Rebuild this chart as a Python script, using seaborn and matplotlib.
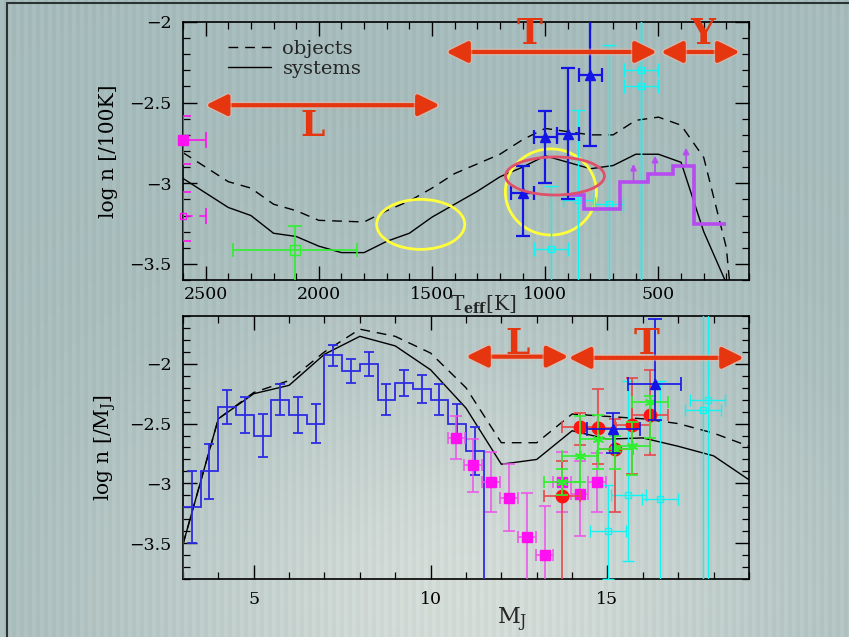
import numpy as np
import pandas as pd
import seaborn as sns
import matplotlib.pyplot as plt
from matplotlib.patches import Ellipse, FancyArrowPatch
from matplotlib.lines import Line2D
from matplotlib.ticker import MultipleLocator, FuncFormatter
import matplotlib.patheffects as pe

# ---- upper panel: model curves vs Teff ----
teff_model = [2600, 2400, 2300, 2200, 2100, 2000, 1900, 1800, 1700, 1600, 1500, 1400,
              1300, 1200, 1100, 1000, 900, 800, 700, 600, 500, 400, 300, 200, 180]
objects_teff = [-2.81, -2.99, -3.03, -3.13, -3.17, -3.23, -3.235, -3.24, -3.17, -3.11, -3.03, -2.94,
                -2.88, -2.82, -2.73, -2.66, -2.68, -2.70, -2.70, -2.61, -2.59, -2.64, -2.84, -3.40, -3.70]
systems_teff = [-2.97, -3.15, -3.20, -3.31, -3.33, -3.39, -3.43, -3.43, -3.36, -3.31, -3.21, -3.13,
                -3.05, -2.96, -2.90, -2.83, -2.87, -2.91, -2.89, -2.82, -2.82, -2.87, -3.30, -3.62, -3.75]

# magenta points at the hot end
mag_teff = [2600]
mag_y = [-2.73]
mag_open_teff = [2600]
mag_open_y = [-3.205]
# green open square
grn_teff = [2105]
grn_y = [-3.415]
grn_xerr = [275]
grn_ylo = [0.30]
grn_yhi = [0.15]
# blue triangles
blue_teff = [1100, 1000, 900, 800]
blue_y = [-3.06, -2.715, -2.695, -2.33]
blue_xerr = [50, 50, 50, 50]
blue_ylo = [0.27, 0.285, 0.40, 0.44]
blue_yhi = [0.165, 0.165, 0.41, 0.50]
# cyan open squares
cyan_teff = [975, 855, 720, 575, 575]
cyan_y = [-3.41, -3.105, -3.13, -2.30, -2.40]
cyan_xerr = [75, 68, 62, 75, 75]
cyan_ylo = [1.0, 1.0, 1.0, 1.5, 1.5]
cyan_yhi = [0.39, 0.56, 0.99, 0.5, 0.6]
# purple lower-limit histogram
purple_edges = [900, 830, 670, 545, 435, 345, 200]
purple_vals = [-3.07, -3.16, -2.99, -2.94, -2.89, -3.25]
arrow_teff = [610, 515, 378]
arrow_base = [-2.99, -2.94, -2.89]

# ---- lower panel: model curves vs M_J ----
mj_model = [3, 4, 5, 6, 7, 8, 9, 10, 11, 12, 13, 14, 15, 16, 17, 18, 19]
objects_mj = [-3.51, -2.46, -2.24, -2.14, -1.90, -1.71, -1.77, -1.91, -2.20, -2.66, -2.66, -2.42,
              -2.44, -2.46, -2.50, -2.58, -2.69]
systems_mj = [-3.51, -2.46, -2.25, -2.18, -1.92, -1.77, -1.85, -2.05, -2.37, -2.84, -2.80, -2.56,
              -2.63, -2.62, -2.69, -2.77, -2.97]

# blue histogram
hist_edges = [3.0, 3.5, 4.0, 4.5, 5.0, 5.5, 6.0, 6.5, 7.0, 7.5, 8.0, 8.5, 9.0, 9.5, 10.0, 10.5, 11.0, 11.5]
hist_vals = [-3.20, -2.90, -2.36, -2.43, -2.60, -2.30, -2.43, -2.50, -1.93, -2.06, -2.00, -2.30,
             -2.16, -2.21, -2.30, -2.50, -2.73]
hist_err = [0.30, 0.23, 0.14, 0.15, 0.18, 0.13, 0.15, 0.16, 0.09, 0.10, 0.10, 0.13,
            0.11, 0.12, 0.13, 0.16, 0.20]

# magenta squares
msq_mj = [10.73, 11.2, 11.71, 12.21, 12.73, 13.22, 13.71, 14.21, 14.7]
msq_y = [-2.62, -2.85, -2.99, -3.12, -3.45, -3.60, -2.99, -3.09, -2.99]
msq_ylo = [0.18, 0.22, 0.25, 0.28, 0.5, 0.5, 0.25, 0.35, 0.25]
msq_yhi = [0.18, 0.22, 0.25, 0.28, 0.37, 0.41, 0.25, 0.28, 0.24]
# green asterisks
gst_mj = [13.71, 14.21, 14.72, 15.22, 15.7, 16.2]
gst_y = [-2.99, -2.77, -2.63, -2.71, -2.69, -2.32]
gst_ylo = [0.11, 0.22, 0.25, 0.17, 0.24, 0.30]
gst_yhi = [0.11, 0.33, 0.20, 0.11, 0.20, 0.05]
# red circles
red_mj = [13.71, 14.21, 14.73, 15.22, 15.7, 16.2]
red_y = [-3.11, -2.53, -2.54, -2.71, -2.51, -2.43]
red_ylo = [0.8, 0.15, 0.30, 0.53, 0.41, 0.33]
red_yhi = [0.30, 0.12, 0.33, 0.25, 0.39, 0.38]
# blue triangles
btr_mj = [15.17, 16.34]
btr_y = [-2.544, -2.167]
btr_ylo = [0.20, 0.30]
btr_yhi = [0.13, 0.54]
# cyan open squares
csq_mj = [15.01, 15.59, 16.48, 17.83, 17.7]
csq_y = [-3.40, -3.10, -3.13, -2.30, -2.39]
csq_ylo = [0.40, 0.55, 1.0, 2.0, 2.0]
csq_yhi = [0.39, 0.96, 0.99, 1.0, 1.0]

sns.set_theme(style='ticks')
plt.rcParams['font.family'] = ['DejaVu Serif']
plt.rcParams['mathtext.fontset'] = 'dejavuserif'

RED = '#e5360f'
BLUE = '#1414e6'
MAG = '#ff10f0'
CYAN = '#10f4f4'
GREEN = '#2ef02e'
PURPLE = '#b64cf0'

fig = plt.figure(figsize=(8.49, 6.37), dpi=100)

# striped background with a soft light patch
H, W = 637, 849
yy, xx = np.mgrid[0:H, 0:W]
base = np.array([166, 187, 187]) / 255.0
light = np.array([212, 220, 216]) / 255.0
blob = np.exp(-(((xx - 470) / 330.0) ** 2 + ((yy - 600) / 260.0) ** 2))
stripe = np.where((xx // 4) % 2 == 0, 1.0, -1.0) * 0.012
img = base[None, None, :] * (1 - blob[..., None]) + light[None, None, :] * blob[..., None]
img = np.clip(img + stripe[..., None], 0, 1)
bg = fig.add_axes([0, 0, 1, 1], zorder=-10)
bg.imshow(img, aspect='auto', interpolation='nearest')
bg.axis('off')
fig.add_artist(Line2D([7 / W, 7 / W], [0, 1 - 3 / H], transform=fig.transFigure, color='#2a3232', lw=1.5))
fig.add_artist(Line2D([7 / W, 1], [1 - 3 / H, 1 - 3 / H], transform=fig.transFigure, color='#2a3232', lw=1.5))

ax1 = fig.add_axes([0.2155, 0.5604, 0.6667, 0.4051])
ax2 = fig.add_axes([0.2155, 0.0911, 0.6667, 0.4128])

minus_fmt = FuncFormatter(lambda v, p: ('%g' % v).replace('-', '\u2212'))
for ax in (ax1, ax2):
    ax.set_facecolor('none')
    for s in ax.spines.values():
        s.set_linewidth(1.2)
        s.set_color('black')
    ax.tick_params(which='both', direction='in', top=True, right=True, colors='black', labelsize=12.5)
    ax.tick_params(which='major', length=10, width=1)
    ax.tick_params(which='minor', length=5, width=0.9)
    ax.yaxis.set_major_locator(MultipleLocator(0.5))
    ax.yaxis.set_minor_locator(MultipleLocator(0.1))
    ax.yaxis.set_major_formatter(minus_fmt)
    ax.tick_params(axis='y', pad=8)

dash = (0, (7, 5))

# ---------- upper panel ----------
df_t = pd.DataFrame({'teff': teff_model, 'objects': objects_teff, 'systems': systems_teff})
sns.lineplot(data=df_t, x='teff', y='objects', ax=ax1, color='black', lw=1.0, linestyle=dash, sort=False)
sns.lineplot(data=df_t, x='teff', y='systems', ax=ax1, color='black', lw=1.0, sort=False)

eb = ax1.errorbar(mag_teff, mag_y, xerr=100, yerr=0.15, fmt='s', color=MAG, ms=7, elinewidth=1.2,
                  capsize=6, capthick=1.2, zorder=5)
eb[0].set_clip_on(False)
eb = ax1.errorbar(mag_open_teff, mag_open_y, xerr=100, yerr=0.15, fmt='s', color=MAG, mfc='none', ms=4,
                  elinewidth=1.2, capsize=6, capthick=1.2, zorder=5)
eb[0].set_clip_on(False)
eb[2][0].set_linestyle((0, (4, 4)))

ax1.errorbar(grn_teff, grn_y, xerr=grn_xerr, yerr=[grn_ylo, grn_yhi], fmt='s', color=GREEN, mfc='none',
             ms=7, elinewidth=1.2, capsize=5, capthick=1.2, zorder=5)
ax1.errorbar(cyan_teff, cyan_y, xerr=cyan_xerr, yerr=[cyan_ylo, cyan_yhi], fmt='s', color=CYAN, mfc='none',
             ms=5, elinewidth=1.0, capsize=5, capthick=1.0, zorder=4)
ax1.errorbar(blue_teff, blue_y, xerr=blue_xerr, yerr=[blue_ylo, blue_yhi], fmt='^', color=BLUE, ms=7,
             elinewidth=1.6, capsize=5, capthick=1.6, zorder=6)

ax1.stairs(purple_vals[::-1], purple_edges[::-1], baseline=None, color=PURPLE, lw=2.6, zorder=5)
for t, b in zip(arrow_teff, arrow_base):
    ax1.annotate('', xy=(t, b + 0.11), xytext=(t, b),
                 arrowprops=dict(arrowstyle='-|>', color=PURPLE, lw=1.2, mutation_scale=9, shrinkA=0, shrinkB=0))

ax1.add_patch(Ellipse((1550, -3.255), 389, 0.31, fill=False, ec='#ffff3c', lw=2.0, zorder=3))
ax1.add_patch(Ellipse((975, -3.054), 402, 0.534, fill=False, ec='#ffff3c', lw=2.0, zorder=3))
ax1.add_patch(Ellipse((957, -2.955), 437, 0.236, fill=False, ec='#e0506a', lw=2.0, zorder=7))

glow = [pe.withStroke(linewidth=5, foreground='#f3b8a8', alpha=0.5)]


def span_arrow(ax, a, b, y):
    arr = FancyArrowPatch((a, y), (b, y), arrowstyle='<|-|>,head_length=0.65,head_width=0.32',
                          mutation_scale=20, lw=3, color=RED, shrinkA=0, shrinkB=0, zorder=8,
                          path_effects=glow, clip_on=False)
    ax.add_patch(arr)


span_arrow(ax1, 2500, 1465, -2.516)
span_arrow(ax1, 1438, 506, -2.186)
span_arrow(ax1, 489, 140, -2.186)
for lab, x, y in [('L', 2026, -2.648), ('T', 1067, -2.075), ('Y', 303, -2.075)]:
    ax1.text(x, y, lab, color=RED, fontsize=25, fontweight='bold', family='DejaVu Serif',
             ha='center', va='center', zorder=8)

ax1.set_xlim(2600, 100)
ax1.set_ylim(-3.6, -2.0)
ax1.xaxis.set_major_locator(MultipleLocator(500))
ax1.xaxis.set_minor_locator(MultipleLocator(100))
ax1.tick_params(axis='x', pad=4)
ax1.set_xlabel('')
ax1.set_ylabel('log n [/100K]', fontsize=14.5, color='black')
ax1.yaxis.set_label_coords(-0.115, 0.5)
ax1.text(0.53, -0.095, r'T$_{\mathbf{eff}}$[K]', transform=ax1.transAxes, fontsize=14.5,
         ha='center', va='center')

leg_handles = [Line2D([], [], color='black', lw=1.0, linestyle=dash),
               Line2D([], [], color='black', lw=1.0)]
ax1.legend(leg_handles, ['objects', 'systems'], loc='upper left', bbox_to_anchor=(0.0795, 0.93),
           frameon=False, fontsize=14, handlelength=2.2, handletextpad=0.6, labelspacing=0.1,
           borderpad=0, borderaxespad=0)

# ---------- lower panel ----------
df_m = pd.DataFrame({'mj': mj_model, 'objects': objects_mj, 'systems': systems_mj})
sns.lineplot(data=df_m, x='mj', y='objects', ax=ax2, color='black', lw=1.0, linestyle=dash)
sns.lineplot(data=df_m, x='mj', y='systems', ax=ax2, color='black', lw=1.0)

edges = np.array(hist_edges)
centers = (edges[:-1] + edges[1:]) / 2
ax2.stairs(hist_vals, hist_edges, baseline=-4.5, color='#2c2ce4', lw=1.3, zorder=3)
ax2.errorbar(centers, hist_vals, yerr=hist_err, fmt='none', ecolor='#2c2ce4', elinewidth=1.3,
             capsize=3.5, capthick=1.3, zorder=3)

ax2.errorbar(msq_mj, msq_y, xerr=0.25, yerr=[msq_ylo, msq_yhi], fmt='s', color=MAG, ecolor='#f050ec',
             ms=6.5, elinewidth=1.1, capsize=4, capthick=1.1, zorder=4)
ax2.errorbar(csq_mj, csq_y, xerr=0.5, yerr=[csq_ylo, csq_yhi], fmt='s', color=CYAN, mfc='none', ms=5,
             elinewidth=1.0, capsize=4, capthick=1.0, zorder=4)
ax2.errorbar(red_mj, red_y, xerr=0.5, yerr=[red_ylo, red_yhi], fmt='o', color='#ff1414', ecolor='#e84848',
             ms=9, elinewidth=1.2, capsize=4, capthick=1.2, zorder=5)
ax2.errorbar(gst_mj, gst_y, xerr=0.5, yerr=[gst_ylo, gst_yhi], fmt='none', ecolor=GREEN,
             elinewidth=1.2, capsize=4, capthick=1.2, zorder=6)
ax2.plot(gst_mj, gst_y, linestyle='none', marker=(6, 2, 0), color=GREEN, ms=8, mew=1.2, zorder=6)
ax2.errorbar(btr_mj, btr_y, xerr=0.75, yerr=[btr_ylo, btr_yhi], fmt='^', color=BLUE, ms=7,
             elinewidth=1.2, capsize=5, capthick=1.2, zorder=7)

span_arrow(ax2, 11.0, 13.9, -1.94)
span_arrow(ax2, 13.9, 18.86, -1.95)
for lab, x, y in [('L', 12.45, -1.83), ('T', 16.1, -1.83)]:
    ax2.text(x, y, lab, color=RED, fontsize=25, fontweight='bold', family='DejaVu Serif',
             ha='center', va='center', zorder=8)

ax2.set_xlim(3, 19)
ax2.set_ylim(-3.8, -1.6)
ax2.xaxis.set_major_locator(MultipleLocator(5))
ax2.xaxis.set_minor_locator(MultipleLocator(1))
ax2.tick_params(axis='x', pad=9)
ax2.set_xlabel('')
ax2.set_ylabel(r'log n [/M$_{\rm J}$]', fontsize=14.5, color='black')
ax2.yaxis.set_label_coords(-0.115, 0.5)
ax2.text(0.581, -0.156, r'M$_{\rm J}$', transform=ax2.transAxes, fontsize=16, ha='center', va='center')

fig.savefig('out.png', dpi=100)
